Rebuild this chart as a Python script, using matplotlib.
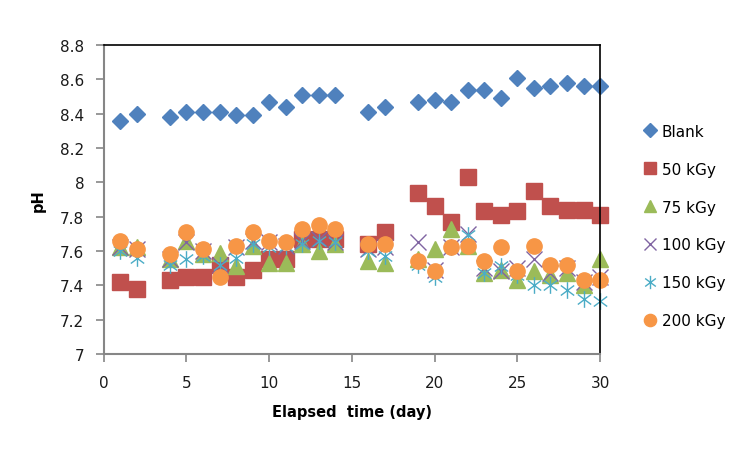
import matplotlib.pyplot as plt
from matplotlib.path import Path

# days measured
days = [1, 2, 4, 5, 6, 7, 8, 9, 10, 11, 12, 13, 14, 16, 17,
        19, 20, 21, 22, 23, 24, 25, 26, 27, 28, 29, 30]

# pH values
blank = [8.36, 8.40, 8.38, 8.41, 8.41, 8.41, 8.39, 8.39, 8.47, 8.44, 8.51, 8.51, 8.51, 8.41, 8.44,
         8.47, 8.48, 8.47, 8.54, 8.54, 8.49, 8.61, 8.55, 8.56, 8.58, 8.56, 8.56]
kgy50 = [7.42, 7.38, 7.43, 7.45, 7.45, 7.52, 7.45, 7.49, 7.55, 7.55, 7.67, 7.67, 7.67, 7.64, 7.71,
         7.94, 7.86, 7.77, 8.03, 7.83, 7.81, 7.83, 7.95, 7.86, 7.84, 7.84, 7.81]
kgy75 = [7.62, 7.62, 7.55, 7.66, 7.58, 7.59, 7.51, 7.63, 7.53, 7.53, 7.64, 7.60, 7.64, 7.54, 7.53,
         7.55, 7.61, 7.73, 7.63, 7.47, 7.49, 7.43, 7.48, 7.46, 7.47, 7.40, 7.55]
kgy100 = [7.62, 7.61, 7.55, 7.65, 7.60, 7.52, 7.62, 7.66, 7.65, 7.63, 7.66, 7.67, 7.65, 7.61, 7.62,
          7.65, 7.49, 7.62, 7.70, 7.50, 7.48, 7.50, 7.55, 7.47, 7.50, 7.42, 7.45]
kgy150 = [7.60, 7.56, 7.52, 7.55, 7.57, 7.52, 7.56, 7.64, 7.62, 7.63, 7.64, 7.66, 7.65, 7.60, 7.57,
          7.52, 7.45, 7.62, 7.69, 7.47, 7.51, 7.46, 7.40, 7.40, 7.37, 7.32, 7.31]
kgy200 = [7.66, 7.61, 7.58, 7.71, 7.61, 7.45, 7.63, 7.71, 7.66, 7.65, 7.73, 7.75, 7.73, 7.64, 7.64,
          7.54, 7.48, 7.62, 7.63, 7.54, 7.62, 7.48, 7.63, 7.52, 7.52, 7.43, 7.43]

labels = ["Blank", "50 kGy", "75 kGy", "100 kGy", "150 kGy", "200 kGy"]

# Excel-style star marker: vertical bar plus an x
star = Path([(0, -1), (0, 1), (-0.8, -0.6), (0.8, 0.6), (-0.8, 0.6), (0.8, -0.6)],
            [Path.MOVETO, Path.LINETO, Path.MOVETO, Path.LINETO, Path.MOVETO, Path.LINETO])

fig = plt.figure(figsize=(7.52, 4.52), dpi=100)
ax = fig.add_axes([0.138, 0.215, 0.66, 0.683])

kw = dict(linestyle="none", clip_on=False)
ax.plot(days, blank, "D", color="#4F81BD", markersize=8.5, label=labels[0], **kw)
ax.plot(days, kgy50, "s", color="#C0504D", markersize=11, label=labels[1], **kw)
ax.plot(days, kgy75, "^", color="#9BBB59", markersize=11, label=labels[2], **kw)
ax.plot(days, kgy100, "x", color="#8064A2", markersize=11, markeredgewidth=1.0,
        label=labels[3], **kw)
ax.plot(days, kgy150, marker=star, color="#4BACC6", markersize=12, markeredgewidth=1.0,
        label=labels[4], **kw)
ax.plot(days, kgy200, "o", color="#F79646", markersize=11, label=labels[5], **kw)

ax.set_xlim(0, 30)
ax.set_ylim(7, 8.8)
ax.set_xticks(range(0, 31, 5))
ax.set_yticks([7, 7.2, 7.4, 7.6, 7.8, 8, 8.2, 8.4, 8.6, 8.8])
ax.set_yticklabels(["7", "7.2", "7.4", "7.6", "7.8", "8", "8.2", "8.4", "8.6", "8.8"])

for side in ["left", "bottom"]:
    ax.spines[side].set_color("#868686")
    ax.spines[side].set_linewidth(1.5)
for side in ["top", "right"]:
    ax.spines[side].set_color("black")
    ax.spines[side].set_linewidth(1.2)
ax.tick_params(axis="both", colors="#868686", labelcolor="#1a1a1a", labelsize=11,
               length=6, width=1.2, direction="out")
ax.tick_params(axis="x", pad=9)
ax.tick_params(axis="y", pad=8)
ax.tick_params(top=False, right=False)

ax.set_xlabel("Elapsed  time (day)", fontsize=10.5, fontweight="bold", labelpad=10)
ax.set_ylabel("pH", fontsize=10.5, fontweight="bold", labelpad=10)

ax.legend(loc="upper left", bbox_to_anchor=(1.06, 0.79), frameon=False, fontsize=11,
          labelspacing=1.5, handlelength=0.8, handletextpad=0.4, markerscale=0.8)

plt.savefig("out.png", dpi=100)
